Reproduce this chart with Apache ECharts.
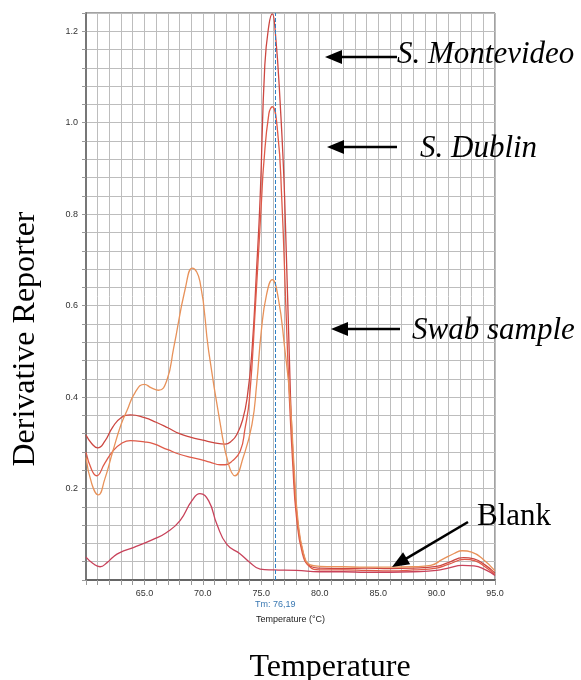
<!DOCTYPE html>
<html>
<head>
<meta charset="utf-8">
<script src="https://cdn.jsdelivr.net/npm/echarts@6/dist/echarts.min.js"></script>
<style>
  html, body { margin: 0; padding: 0; background: #fff; }
  #chart { width: 581px; height: 680px; }
</style>
</head>
<body>
<div id="chart"></div>
<script>
// melt curves: [temperature, derivative reporter]
const montevideo = [
  [60, 0.317], [60.5, 0.298], [61, 0.289], [61.6, 0.303], [62.3, 0.335], [63, 0.355], [63.8, 0.361],
  [65, 0.355], [66, 0.345], [67, 0.333], [68, 0.32], [69, 0.312], [70, 0.306], [71, 0.3], [71.9, 0.297],
  [72.5, 0.305], [72.9, 0.318], [73.4, 0.35], [73.8, 0.4], [74.2, 0.5], [74.6, 0.68], [74.9, 0.835],
  [75.3, 1.125], [75.65, 1.213], [75.94, 1.238], [76.2, 1.198], [76.6, 1.05], [77, 0.835], [77.5, 0.4],
  [77.8, 0.23], [78.1, 0.13], [78.6, 0.057], [79.2, 0.03], [80, 0.026], [82, 0.025], [84, 0.026],
  [86, 0.025], [88, 0.026], [90, 0.03], [91, 0.038], [92.3, 0.049], [93.2, 0.046], [94.2, 0.032], [95, 0.015]
];
const dublin = [
  [60, 0.279], [60.5, 0.24], [60.9, 0.228], [61.6, 0.255], [62.3, 0.282], [63, 0.298], [63.8, 0.305],
  [65, 0.302], [65.75, 0.298], [67, 0.285], [68, 0.275], [69, 0.268], [69.75, 0.264], [70.6, 0.258],
  [71.5, 0.252], [71.9, 0.252], [72.5, 0.26], [73.2, 0.282], [73.6, 0.33], [74, 0.4], [74.5, 0.6],
  [75.03, 0.835], [75.2, 0.907], [75.65, 1.02], [75.94, 1.035], [76.4, 0.98], [76.75, 0.835],
  [77.1, 0.6], [77.4, 0.4], [77.7, 0.25], [78, 0.14], [78.5, 0.06], [79.1, 0.03], [80, 0.022],
  [82, 0.022], [84, 0.021], [86, 0.02], [88, 0.022], [90, 0.026], [91, 0.034], [92.4, 0.045],
  [93.3, 0.042], [94.2, 0.028], [95, 0.012]
];
const swab = [
  [60, 0.268], [60.5, 0.21], [61.05, 0.186], [61.6, 0.22], [62.3, 0.282], [63, 0.34], [63.5, 0.37],
  [64.2, 0.41], [65, 0.428], [65.6, 0.42], [66.2, 0.415], [66.9, 0.435], [67.5, 0.507], [68.5, 0.638],
  [69.1, 0.682], [69.75, 0.653], [70.5, 0.5], [71.5, 0.34], [72.2, 0.253], [72.75, 0.228],
  [73.45, 0.268], [74.2, 0.34], [74.6, 0.427], [75, 0.544], [75.45, 0.624], [75.94, 0.657],
  [76.45, 0.617], [77, 0.508], [77.45, 0.398], [77.8, 0.25], [78.1, 0.14], [78.6, 0.06], [79.2, 0.033],
  [80, 0.03], [82, 0.029], [84, 0.028], [86, 0.028], [88, 0.029], [89.5, 0.032], [90.5, 0.045],
  [91.5, 0.058], [92.2, 0.064], [93, 0.061], [94, 0.045], [95, 0.02]
];
const blank = [
  [60, 0.05], [60.6, 0.036], [61.2, 0.029], [61.8, 0.038], [62.3, 0.05], [62.9, 0.06], [64.05, 0.071],
  [65.75, 0.089], [66.9, 0.104], [68.05, 0.13], [69.05, 0.173], [69.75, 0.189], [70.5, 0.173],
  [71.2, 0.122], [72.05, 0.078], [73.2, 0.057], [74, 0.039], [74.9, 0.024], [76, 0.022], [78, 0.021],
  [80, 0.018], [82, 0.018], [84, 0.017], [86, 0.017], [88, 0.018], [90, 0.021], [91, 0.026],
  [92.2, 0.032], [93.2, 0.031], [94.2, 0.022], [95, 0.01]
];
const seriesNames = ['S. Montevideo', 'S. Dublin', 'Swab sample', 'Blank'];
const tm = 76.19;
const tmLabel = 'Tm: 76,19';

const colors = ['#cc4640', '#df5a48', '#e8925a', '#c8425a'];
const serif = '"Liberation Serif", "Times New Roman", serif';

function arrow(x1, y1, x2, y2) {
  const dx = x2 - x1, dy = y2 - y1, len = Math.hypot(dx, dy);
  const ux = dx / len, uy = dy / len, hl = 17, hw = 7;
  const bx = x2 - ux * hl, by = y2 - uy * hl;
  return [
    { type: 'line', z: 100, shape: { x1: x1, y1: y1, x2: bx + ux * 2, y2: by + uy * 2 }, style: { stroke: '#000', lineWidth: 2.6 } },
    { type: 'polygon', z: 100, shape: { points: [[x2, y2], [bx - uy * hw, by + ux * hw], [bx + uy * hw, by - ux * hw]] }, style: { fill: '#000' } }
  ];
}
function label(text, x, y, italic) {
  return {
    type: 'text', x: x, y: y, z: 100,
    style: { text: text, font: (italic ? 'italic ' : '') + '31px ' + serif, fill: '#000', align: 'left', verticalAlign: 'middle' }
  };
}

const chart = echarts.init(document.getElementById('chart'));
const curves = [montevideo, dublin, swab, blank];

chart.setOption({
  animation: false,
  grid: { left: 86, top: 13, width: 409, height: 567, show: true, borderColor: '#444', borderWidth: 1 },
  xAxis: {
    type: 'value', min: 60, max: 95, interval: 1,
    name: 'Temperature (°C)', nameLocation: 'middle', nameGap: 35,
    nameTextStyle: { fontSize: 9, color: '#222', fontFamily: 'Liberation Sans' },
    axisLine: { lineStyle: { color: '#666', width: 2 } },
    axisTick: { length: 5, lineStyle: { color: '#999' } },
    splitLine: { lineStyle: { color: '#bdbdbd' } },
    axisLabel: {
      fontSize: 9, color: '#333', margin: 9, fontFamily: 'Liberation Sans',
      formatter: (v) => (v % 5 === 0 && v !== 60) ? v.toFixed(1) : ''
    }
  },
  yAxis: {
    type: 'value', min: 0, max: 1.24, interval: 0.04,
    axisLine: { show: true, lineStyle: { color: '#777', width: 2 } },
    axisTick: { show: true, length: 4, lineStyle: { color: '#999' } },
    splitLine: { lineStyle: { color: '#bdbdbd' } },
    axisLabel: {
      fontSize: 9, color: '#333', margin: 8, fontFamily: 'Liberation Sans',
      formatter: (v) => (v > 0.01 && Math.round(v * 100) % 20 === 0) ? v.toFixed(1) : ''
    }
  },
  series: curves.map((d, i) => ({
    name: seriesNames[i],
    type: 'line',
    data: d,
    smooth: 0.5,
    showSymbol: false,
    lineStyle: { color: colors[i], width: 1.3 },
    markLine: i === 0 ? {
      silent: true,
      symbol: ['none', 'none'],
      lineStyle: { color: '#2f80c4', type: 'dashed', width: 1 },
      label: { show: true, position: 'start', distance: 20, formatter: tmLabel, color: '#3a78b2', fontSize: 9, fontFamily: 'Liberation Sans' },
      data: [{ xAxis: tm }]
    } : undefined
  })),
  graphic: [
    { type: 'text', x: 26, y: 339, rotation: Math.PI / 2, z: 100,
      style: { text: 'Derivative Reporter', font: '32px ' + serif, fill: '#000', align: 'center', verticalAlign: 'middle' } },
    { type: 'text', x: 330, y: 668, z: 100,
      style: { text: 'Temperature', font: '32px ' + serif, fill: '#000', align: 'center', verticalAlign: 'middle' } },
    ...arrow(397, 57, 325, 57),
    label('S. Montevideo', 397, 54.5, true),
    ...arrow(397, 147, 327, 147),
    label('S. Dublin', 420, 148.5, true),
    ...arrow(400, 329, 331, 329),
    label('Swab sample', 412, 331, true),
    ...arrow(468, 522, 392, 567),
    label('Blank', 477, 517, false)
  ]
});
</script>
</body>
</html>
